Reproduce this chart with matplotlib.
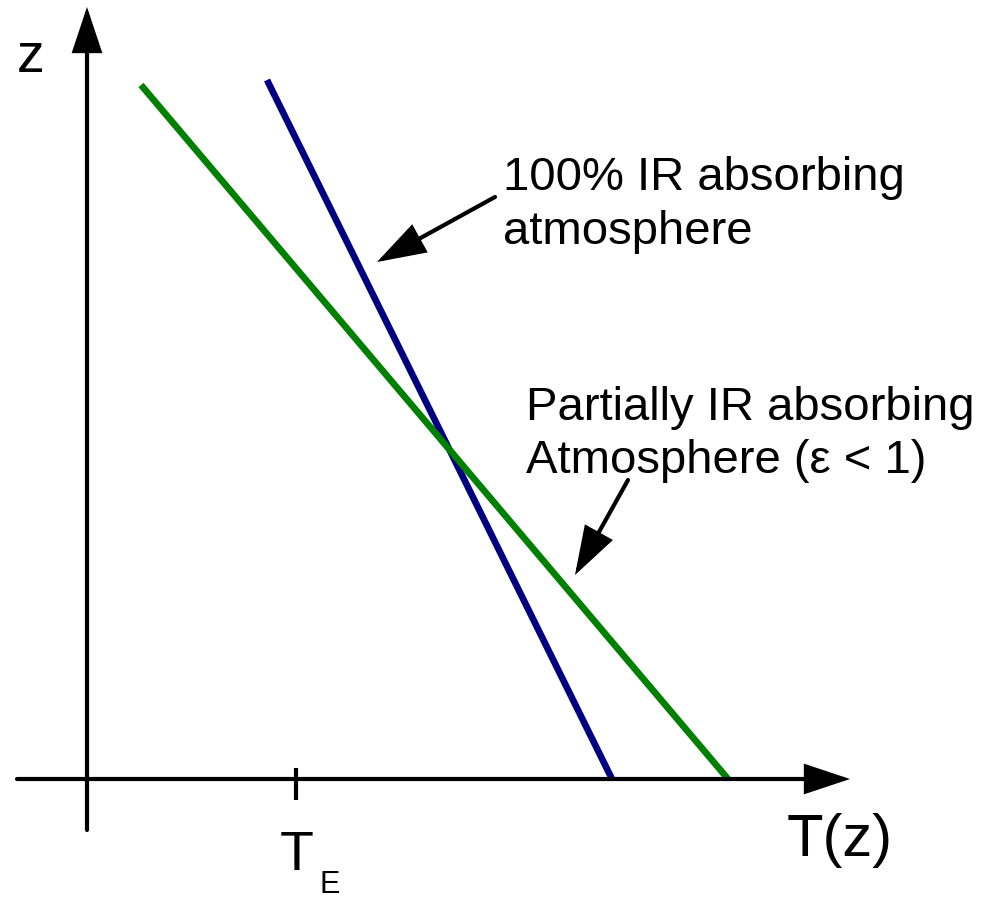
import matplotlib
matplotlib.use("Agg")
import matplotlib.pyplot as plt
from matplotlib.patches import ArrowStyle

plt.rcParams['font.family'] = ['Liberation Sans', 'DejaVu Sans']

# Schematic data (arbitrary units: T along x, z along y, origin at axis crossing)
T_full = [180, 525]      # 100% IR absorbing atmosphere
z_full = [699, 0]
T_part = [54, 641]       # partially IR absorbing atmosphere
z_part = [694, 0]
T_E = 209

fig = plt.figure(figsize=(9.86, 9.0), dpi=100)
ax = fig.add_axes([0, 0, 1, 1])
ax.set_xlim(-87, 899)
ax.set_ylim(-121, 779)
ax.axis('off')

def arrow(tail, tip, lw, hl, hw):
    ax.annotate('', xy=tip, xytext=tail,
                arrowprops=dict(arrowstyle=ArrowStyle('-|>', head_length=hl, head_width=hw),
                                mutation_scale=1, lw=lw, color='black',
                                shrinkA=0, shrinkB=0, joinstyle='miter'))

# axes
arrow((-70, 0), (763, 0), 3, 27, 9)
arrow((0, -51), (0, 772), 3, 27, 9)

# tick at T_E
ax.plot([T_E, T_E], [11, -21], color='black', lw=3, solid_capstyle='butt')

# lines
ax.plot(T_full, z_full, color='#000080', lw=4.8, solid_capstyle='butt')
ax.plot(T_part, z_part, color='#008000', lw=4.8, solid_capstyle='butt')

# labels
ax.text(-70, 707, 'z', fontsize=40, ha='left', va='baseline')
ax.text(700, -77, 'T(z)', fontsize=43, ha='left', va='baseline')
ax.text(193, -91, 'T', fontsize=40, ha='left', va='baseline')
ax.text(233, -114, 'E', fontsize=22, ha='left', va='baseline')

ax.text(416, 589, '100% IR absorbing', fontsize=34, ha='left', va='baseline')
ax.text(416, 535, 'atmosphere', fontsize=34, ha='left', va='baseline')
ax.text(439, 359, 'Partially IR absorbing', fontsize=34, ha='left', va='baseline')
ax.text(439, 306, 'Atmosphere (ε < 1)', fontsize=34, ha='left', va='baseline')

arrow((408, 582), (290, 517), 3, 29, 9.5)
arrow((541, 299), (488, 204), 3, 29, 9.5)

fig.savefig('out.png', dpi=100)
